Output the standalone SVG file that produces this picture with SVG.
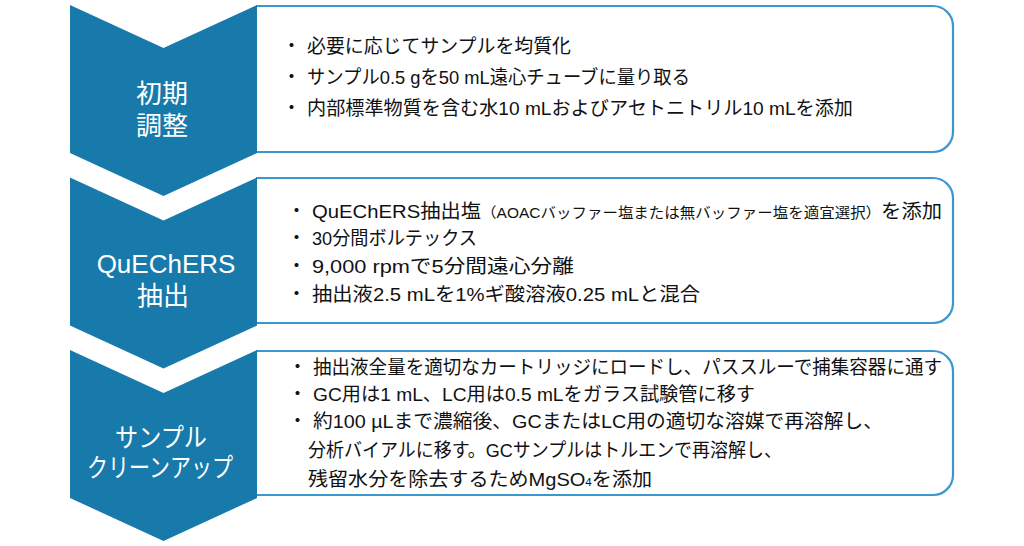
<svg xmlns="http://www.w3.org/2000/svg" width="1024" height="546" viewBox="0 0 1024 546">
<style>
.box{fill:#fff;stroke:#3c97cf;stroke-width:2.2}
.chev{fill:#177aab}
.lbl{font-family:"Liberation Sans","Noto Sans CJK JP",sans-serif;font-size:26px;fill:#fff;text-anchor:middle}
.t{font-family:"Liberation Sans","Noto Sans CJK JP",sans-serif;font-size:19px;fill:#111}
.s{font-size:14.5px}
</style>
<rect width="1024" height="546" fill="#fff"/>
<g id="step1">
<path class="box" d="M256,6 H933 A20,20 0 0 1 953,26 V132 A20,20 0 0 1 933,152 H256"/>
<path class="chev" d="M70,5 L163.5,48 L257,5 L257,153 L163.5,196 L70,153 Z"/>
<text class="lbl" x="162" y="103">初期</text>
<text class="lbl" x="162" y="135">調整</text>
<text class="t" x="282" y="53">・</text>
<text class="t" x="307" y="53" textLength="264" lengthAdjust="spacingAndGlyphs">必要に応じてサンプルを均質化</text>
<text class="t" x="282" y="84">・</text>
<text class="t" x="307" y="84" textLength="383" lengthAdjust="spacingAndGlyphs">サンプル0.5 gを50 mL遠心チューブに量り取る</text>
<text class="t" x="282" y="115">・</text>
<text class="t" x="307" y="115" textLength="546" lengthAdjust="spacingAndGlyphs">内部標準物質を含む水10 mLおよびアセトニトリル10 mLを添加</text>
</g>
<g id="step2">
<path class="box" d="M256,178 H933 A20,20 0 0 1 953,198 V303 A20,20 0 0 1 933,323 H256"/>
<path class="chev" d="M70,177.5 L163.5,220.5 L257,177.5 L257,325.5 L163.5,368.5 L70,325.5 Z"/>
<text class="lbl" x="166" y="273">QuEChERS</text>
<text class="lbl" x="163" y="305">抽出</text>
<text class="t" x="287" y="218">・</text>
<text class="t" x="312" y="218" textLength="630" lengthAdjust="spacingAndGlyphs">QuEChERS抽出塩<tspan class="s">（AOACバッファー塩または無バッファー塩を適宜選択）</tspan>を添加</text>
<text class="t" x="287" y="245">・</text>
<text class="t" x="312" y="245" textLength="165" lengthAdjust="spacingAndGlyphs">30分間ボルテックス</text>
<text class="t" x="287" y="273">・</text>
<text class="t" x="312" y="273" textLength="262" lengthAdjust="spacingAndGlyphs">9,000 rpmで5分間遠心分離</text>
<text class="t" x="287" y="301">・</text>
<text class="t" x="312" y="301" textLength="388" lengthAdjust="spacingAndGlyphs">抽出液2.5 mLを1%ギ酸溶液0.25 mLと混合</text>
</g>
<g id="step3">
<path class="box" d="M256,351 H933 A20,20 0 0 1 953,371 V475 A20,20 0 0 1 933,495 H256"/>
<path class="chev" d="M70,350 L163.5,393 L257,350 L257,498 L163.5,541 L70,498 Z"/>
<text class="lbl" x="161" y="447" textLength="92" lengthAdjust="spacingAndGlyphs">サンプル</text>
<text class="lbl" x="160" y="477" textLength="146" lengthAdjust="spacingAndGlyphs">クリーンアップ</text>
<text class="t" x="288" y="374">・</text>
<text class="t" x="313" y="374" textLength="629" lengthAdjust="spacingAndGlyphs">抽出液全量を適切なカートリッジにロードし、パススルーで捕集容器に通す</text>
<text class="t" x="288" y="401">・</text>
<text class="t" x="313" y="401" textLength="442" lengthAdjust="spacingAndGlyphs">GC用は1 mL、LC用は0.5 mLをガラス試験管に移す</text>
<text class="t" x="288" y="428">・</text>
<text class="t" x="313" y="428" textLength="570" lengthAdjust="spacingAndGlyphs">約100 µLまで濃縮後、GCまたはLC用の適切な溶媒で再溶解し、</text>
<text class="t" x="308" y="457" textLength="474" lengthAdjust="spacingAndGlyphs">分析バイアルに移す。GCサンプルはトルエンで再溶解し、</text>
<text class="t" x="308" y="486" textLength="344" lengthAdjust="spacingAndGlyphs">残留水分を除去するためMgSO<tspan font-size="11">4</tspan>を添加</text>
</g>
</svg>
